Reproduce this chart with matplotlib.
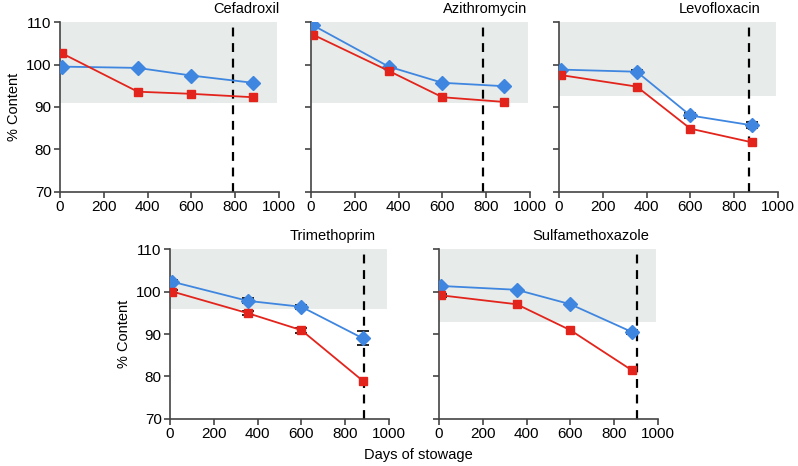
import numpy as np
import matplotlib.pyplot as plt

plt.rcParams['font.family'] = ['Liberation Sans', 'DejaVu Sans']
plt.rcParams['font.size'] = 10

days = [10, 355, 600, 880]

drugs = ['Cefadroxil', 'Azithromycin', 'Levofloxacin', 'Trimethoprim', 'Sulfamethoxazole']
blue_vals = [
    [99.5, 99.2, 97.4, 95.7],
    [109.2, 99.5, 95.7, 94.9],
    [98.8, 98.3, 88.0, 85.7],
    [102.3, 97.8, 96.4, 89.0],
    [101.3, 100.4, 97.0, 90.5],
]
red_vals = [
    [102.6, 93.6, 93.1, 92.3],
    [107.0, 98.5, 92.3, 91.2],
    [97.5, 94.8, 84.9, 81.7],
    [100.0, 94.9, 90.9, 79.0],
    [99.1, 97.0, 90.9, 81.5],
]
blue_err = [
    [0, 0, 0, 0],
    [0, 0, 0, 0],
    [0, 0.4, 0.6, 0.7],
    [0.5, 0.6, 0.4, 1.6],
    [0, 0, 0, 0.5],
]
red_err = [
    [0, 0, 0, 0],
    [0, 0, 0, 0],
    [0, 0, 0, 0],
    [0.4, 0.4, 0.6, 0],
    [0.3, 0, 0, 0],
]
shade_low = [91.0, 91.0, 92.7, 95.9, 92.8]
expiry = [790, 785, 866, 887, 904]
title_x = [850, 794, 735, 744, 694]

fig = plt.figure(figsize=(7.98, 4.66), dpi=100)
W, H = 798, 466
# axes boxes in pixels: left, top-of-axis y (110), bottom y (70)
boxes = [(60, 22, 192), (311, 22, 192), (559, 22, 192), (170, 249, 419), (439, 249, 419)]

blue = '#3f86e0'
red = '#e3241c'
spine_col = '#444444'


def draw_errs(ax, vals, errs):
    # only points that actually have an error bar
    xs = [d for d, e in zip(days, errs) if e > 0]
    ys = [v for v, e in zip(vals, errs) if e > 0]
    es = [e for e in errs if e > 0]
    if xs:
        ax.errorbar(xs, ys, yerr=es, fmt='none', ecolor='black', elinewidth=1.2,
                    capsize=4, capthick=1.2, zorder=2)


for i, (x0, yt, yb) in enumerate(boxes):
    ax = fig.add_axes([x0 / W, 1 - yb / H, 219 / W, (yb - yt) / H])
    ax.axhspan(shade_low[i], 110, xmin=0, xmax=0.99, color='#e7ebe9', zorder=0, lw=0)
    ax.axvline(expiry[i], color='black', ls=(0, (4, 3)), lw=1.6, zorder=1)
    draw_errs(ax, blue_vals[i], blue_err[i])
    draw_errs(ax, red_vals[i], red_err[i])
    ax.plot(days, blue_vals[i], color=blue, marker='D', ms=7, lw=1.3, zorder=3)
    ax.plot(days, red_vals[i], color=red, marker='s', ms=6, lw=1.3, zorder=3)
    ax.set_xlim(0, 1000)
    ax.set_ylim(70, 110)
    ax.set_xticks([0, 200, 400, 600, 800, 1000])
    ax.set_yticks([70, 80, 90, 100, 110])
    for s in ['top', 'right']:
        ax.spines[s].set_visible(False)
    for s in ['left', 'bottom']:
        ax.spines[s].set_color(spine_col)
        ax.spines[s].set_linewidth(1.2)
    ax.tick_params(direction='out', length=4, width=1.2, color=spine_col, labelsize=11, pad=2)
    if i in (0, 3):
        ax.set_ylabel('% Content', fontsize=10.5, labelpad=4)
    else:
        ax.set_yticklabels([])
    ax.text(title_x[i], 111.5, drugs[i], ha='center', va='bottom', fontsize=10.5, clip_on=False)

fig.text(418 / W, 1 - 455 / H, 'Days of stowage', ha='center', va='center', fontsize=10.5)

fig.savefig('out.png', dpi=100)
